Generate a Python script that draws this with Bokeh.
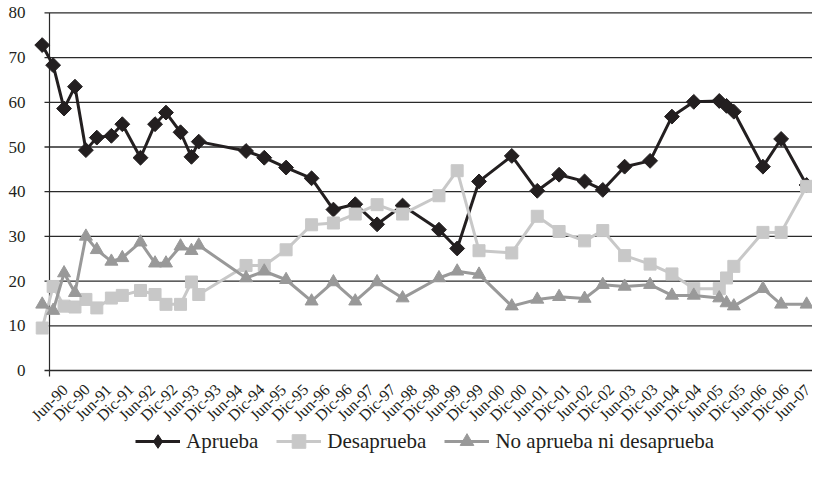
import numpy as np
from bokeh.plotting import figure
from bokeh.models import FixedTicker, Legend, LegendItem, Range1d, ColumnDataSource
from bokeh.embed import file_html
from bokeh.resources import INLINE
from bokeh.core.properties import value

# ---------------- data ----------------
dates = ["1990-04", "1990-07", "1990-10", "1991-01", "1991-04", "1991-07", "1991-11", "1992-02",
         "1992-07", "1992-11", "1993-02", "1993-06", "1993-09", "1993-11", "1994-12", "1995-05",
         "1995-11", "1996-06", "1996-12", "1997-06", "1997-12", "1998-07", "1999-05", "1999-10",
         "2000-04", "2001-01", "2001-08", "2002-02", "2002-09", "2003-02", "2003-08", "2004-03",
         "2004-09", "2005-03", "2005-10", "2005-12", "2006-02", "2006-10", "2007-03", "2007-10"]

aprueba = [72.8, 68.3, 58.6, 63.5, 49.3, 52.1, 52.5, 55.1, 47.6, 55.1, 57.7, 53.3, 47.8, 51.2,
           49.1, 47.6, 45.4, 43.0, 36.0, 37.2, 32.7, 36.9, 31.5, 27.3, 42.3, 48.0, 40.2, 43.8,
           42.3, 40.4, 45.6, 46.9, 56.8, 60.1, 60.3, 59.2, 57.9, 45.6, 51.8, 41.5]

desaprueba = [9.5, 18.8, 14.4, 14.2, 15.9, 14.0, 16.2, 16.8, 17.9, 17.0, 14.8, 14.8, 19.8, 17.0,
              23.5, 23.5, 27.0, 32.6, 33.0, 35.0, 37.1, 35.0, 39.1, 44.7, 26.8, 26.3, 34.5, 31.1,
              29.0, 31.3, 25.7, 23.8, 21.6, 18.3, 18.3, 20.7, 23.3, 30.9, 30.9, 41.2]

ni_ni = [14.8, 13.4, 21.8, 17.4, 30.0, 27.0, 24.4, 25.2, 28.7, 24.0, 24.0, 27.8, 26.8, 28.0,
         20.7, 22.2, 20.3, 15.5, 19.8, 15.5, 19.8, 16.2, 20.7, 22.2, 21.5, 14.4, 15.9, 16.5,
         16.1, 19.2, 18.8, 19.2, 16.8, 16.8, 16.2, 15.1, 14.4, 18.3, 14.8, 14.8]

tick_labels = ["Jun-90", "Dic-90", "Jun-91", "Dic-91", "Jun-92", "Dic-92", "Jun-93", "Dic-93",
               "Jun-94", "Dic-94", "Jun-95", "Dic-95", "Jun-96", "Dic-96", "Jun-97", "Dic-97",
               "Jun-98", "Dic-98", "Jun-99", "Dic-99", "Jun-00", "Dic-00", "Jun-01", "Dic-01",
               "Jun-02", "Dic-02", "Jun-03", "Dic-03", "Jun-04", "Dic-04", "Jun-05", "Dic-05",
               "Jun-06", "Dic-06", "Jun-07"]

y_ticks = [0, 10, 20, 30, 40, 50, 60, 70, 80]

series_names = ["Aprueba", "Desaprueba", "No aprueba ni desaprueba"]


def to_month(s):
    y, m = map(int, s.split("-"))
    return (y - 1990) * 12 + (m - 6)   # months since Jun-90


x = [to_month(d) for d in dates]
tick_x = [6 * i for i in range(len(tick_labels))]

# ---------------- layout constants ----------------
PPM = 3.64           # px per month
ORIGIN_PX = 18       # px from frame left to Jun-90
FRAME_W = 781
PPU = 4.47           # px per y unit
FRAME_H = 460
y_end = 80 + 1.4 / PPU
y_start = y_end - FRAME_H / PPU
x_start = -ORIGIN_PX / PPM
x_end = x_start + FRAME_W / PPM

FONT = "Liberation Serif"
INK = "#231f20"
C_AP = "#231f20"
C_DES = "#c8c8c8"
C_NN = "#999999"

p = figure(frame_width=FRAME_W, frame_height=FRAME_H,
           x_range=Range1d(x_start, x_end), y_range=Range1d(y_start, y_end),
           output_backend="svg", toolbar_location=None, x_axis_location=None,
           min_border_left=31, min_border_right=0, min_border_top=11, min_border_bottom=0,
           outline_line_color=None, background_fill_color="white", border_fill_color="white")
p.xgrid.visible = False
p.ygrid.visible = False

# y axis labels
p.yaxis.ticker = FixedTicker(ticks=y_ticks)
p.yaxis.axis_line_color = None
p.yaxis.major_tick_line_color = None
p.yaxis.minor_tick_line_color = None
p.yaxis.major_tick_out = 0
p.yaxis.major_tick_in = 0
p.yaxis.major_label_standoff = 6
p.yaxis.major_label_text_font = FONT
p.yaxis.major_label_text_font_size = "17px"
p.yaxis.major_label_text_color = INK

# gridlines and axis line
p.segment(x0=[-5 / PPM] * len(y_ticks), x1=[x_end] * len(y_ticks), y0=y_ticks, y1=y_ticks,
          line_color="#2a2a2a", line_width=1.3)
p.segment(x0=[0], x1=[0], y0=[-6 / PPU], y1=[max(y_ticks)], line_color="#2a2a2a", line_width=1.2)

# x tick labels, rotated and centred under each tick (as in the original)
p.text(x=tick_x, y=[0] * len(tick_x), text=tick_labels, angle=np.pi / 4,
       text_align="center", text_baseline="middle", y_offset=32,
       text_font=value(FONT), text_font_size="16px", text_color=INK)

src = ColumnDataSource(dict(x=x, ap=aprueba, des=desaprueba, nn=ni_ni))

l1 = p.line("x", "ap", source=src, line_color=C_AP, line_width=3)
s1 = p.scatter("x", "ap", source=src, marker="square", angle=np.pi / 4, size=10.5,
               fill_color=C_AP, line_color=C_AP)
l2 = p.line("x", "des", source=src, line_color=C_DES, line_width=3)
s2 = p.scatter("x", "des", source=src, marker="square", size=12, fill_color=C_DES, line_color=C_DES)
l3 = p.line("x", "nn", source=src, line_color=C_NN, line_width=3)
s3 = p.scatter("x", "nn", source=src, marker="triangle", size=13, fill_color=C_NN, line_color=C_NN)

# legend-only diamond (legend glyphs are drawn unrotated); it has no drawable point
d_leg = p.scatter(x=[np.nan], y=[np.nan], marker="diamond", size=14,
                  fill_color=C_AP, line_color=C_AP)

legend = Legend(items=[LegendItem(label=series_names[0], renderers=[l1, d_leg]),
                       LegendItem(label=series_names[1], renderers=[l2, s2]),
                       LegendItem(label=series_names[2], renderers=[l3, s3])],
                orientation="horizontal", location=(104, 13),
                glyph_width=45, glyph_height=34, label_standoff=6, spacing=18,
                padding=0, margin=0, border_line_color=None, background_fill_alpha=0,
                label_text_font=FONT, label_text_font_size="21px", label_text_color=INK)
p.add_layout(legend, "center")

open("out.html", "w").write(file_html(p, INLINE))
